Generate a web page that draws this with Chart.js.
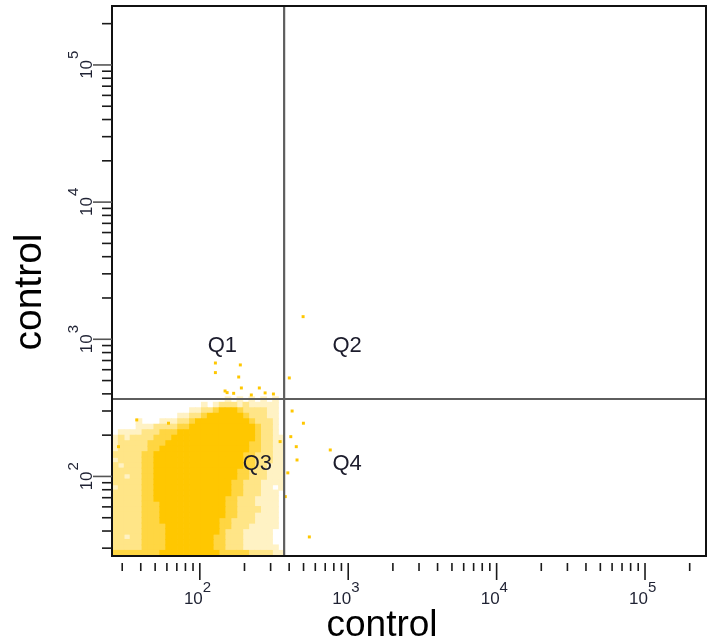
<!DOCTYPE html>
<html>
<head>
<meta charset="utf-8">
<script src="https://cdn.jsdelivr.net/npm/chart.js@4.4.1/dist/chart.umd.min.js"></script>
<style>
  html, body { margin: 0; padding: 0; background: #ffffff; }
  #wrap { width: 711px; height: 641px; }
</style>
</head>
<body>
<div id="wrap"><canvas id="c" width="711" height="641"></canvas></div>
<script>
// ---------------- data ----------------
// axis ranges (log scales)
const xRange = [25.6, 257600];
const yRange = [26.3, 269000];

// quadrant gate positions
const gateX = 370;
const gateY = 367;

// density map of the event cloud: bin centres in log10 units
const binXLog = [1.43, 1.47, 1.51, 1.55, 1.59, 1.63, 1.67, 1.71, 1.75, 1.79,
                 1.83, 1.87, 1.91, 1.95, 1.99, 2.03, 2.07, 2.11, 2.15, 2.19,
                 2.23, 2.27, 2.31, 2.35, 2.39, 2.43, 2.47, 2.51, 2.55];
const binYLog = [2.56, 2.52, 2.48, 2.44, 2.40, 2.36, 2.32, 2.28, 2.24, 2.20,
                 2.16, 2.12, 2.08, 2.04, 2.00, 1.96, 1.92, 1.88, 1.84, 1.80,
                 1.76, 1.72, 1.68, 1.64, 1.60, 1.56, 1.52, 1.48, 1.44];
// density level per bin (0 = empty ... 4 = saturated), one string per row, top row first
const densityRows = [
  "00000000000000000001010101010",
  "00000000000000010122212111110",
  "00000000000001122344432222110",
  "00000000000112234444443222110",
  "00001000111223444444444322210",
  "00001112222334444444444432210",
  "01111222333444444444444432210",
  "12122223334444444444444432211",
  "12222233344444444444444332211",
  "12222233444444444444444332211",
  "22222334444444444444443322211",
  "12222334444444444444443322211",
  "21222334444444444444443322111",
  "22222334444444444444433222111",
  "22122334444444444444433222111",
  "22222334444444444444332221111",
  "12222334444444444444332221101",
  "22222334444444444444332221110",
  "22222334444444444443322211110",
  "22222333444444444443322211110",
  "22222333444444444443322221110",
  "22222333444444444443322211110",
  "22222333444444444433222211110",
  "22222333344444444433222111110",
  "22222333344444444432221111100",
  "22122333344444444332221111100",
  "22222333344444444332221111100",
  "22222333344444444332221111110",
  "33333333444444444433333222211"
];
// isolated events outside the main cloud (log10 units)
const outlierXLog = [2.105, 2.273, 2.105, 2.262, 2.280, 2.184, 2.228, 2.401, 2.603, 2.696,
                     2.622, 2.698, 2.613, 2.650, 2.879, 2.655, 2.593, 2.576, 2.738, 2.170,
                     2.347, 2.440, 2.496, 2.541, 1.575, 1.789, 1.452];
const outlierYLog = [2.827, 2.813, 2.757, 2.725, 2.645, 2.611, 2.606, 2.645, 2.718, 3.165,
                     2.477, 2.388, 2.290, 2.217, 2.193, 2.120, 2.026, 1.853, 1.559, 2.623,
                     2.594, 2.609, 2.601, 2.254, 2.412, 2.388, 2.217];

// tick values
const xMajorTicks = [100, 1000, 10000, 100000];
const xMinorTicks = [30, 40, 50, 60, 70, 80, 90, 200, 300, 400, 500, 600, 700, 800, 900,
                     2000, 3000, 4000, 5000, 6000, 7000, 8000, 9000,
                     20000, 30000, 40000, 50000, 60000, 70000, 80000, 90000, 200000];
const yMajorTicks = [100, 1000, 10000, 100000];
const yMinorTicks = [30, 40, 50, 60, 70, 80, 90, 200, 300, 400, 500, 600, 700, 800, 900,
                     2000, 3000, 4000, 5000, 6000, 7000, 8000, 9000,
                     20000, 30000, 40000, 50000, 60000, 70000, 80000, 90000, 200000];
const tickExponents = ["2", "3", "4", "5"];

// quadrant labels and their anchor positions (log10 units)
const quadLabels = ["Q1", "Q2", "Q3", "Q4"];
const quadXLog = [2.152, 2.993, 2.388, 2.993];
const quadYLog = [2.951, 2.951, 2.091, 2.091];

const axisTitleX = "control";
const axisTitleY = "control";

// ---------------- build datasets ----------------
const levelColors = ["rgba(0,0,0,0)", "rgb(255,242,196)", "rgb(255,229,135)", "rgb(255,214,66)", "rgb(255,199,0)"];
const cloudPoints = [];
densityRows.forEach((row, j) => {
  for (let i = 0; i < row.length && i < binXLog.length; i++) {
    const d = +row[i];
    if (d > 0) cloudPoints.push({ x: Math.pow(10, binXLog[i]), y: Math.pow(10, binYLog[j]), d: d });
  }
});
// draw sparse bins first so dense bins sit on top
cloudPoints.sort((p, q) => p.d - q.d);
const outlierPoints = outlierXLog.map((lx, k) => ({ x: Math.pow(10, lx), y: Math.pow(10, outlierYLog[k]) }));

const FONT = "'Liberation Sans', Arial, sans-serif";

const facsPlugin = {
  id: 'facsDecor',
  afterDatasetsDraw(chart) {
    const { ctx, chartArea: a, scales: { x, y } } = chart;
    ctx.save();
    // frame
    ctx.strokeStyle = '#111';
    ctx.lineWidth = 2;
    ctx.strokeRect(a.left, a.top, a.right - a.left, a.bottom - a.top);

    // x tick marks (detached from axis)
    ctx.strokeStyle = '#1a1a1a';
    ctx.lineWidth = 1.6;
    const xt0 = a.bottom + 7;
    xMinorTicks.forEach(v => {
      const px = x.getPixelForValue(v);
      ctx.beginPath(); ctx.moveTo(px, xt0); ctx.lineTo(px, xt0 + 8); ctx.stroke();
    });
    xMajorTicks.forEach(v => {
      const px = x.getPixelForValue(v);
      ctx.beginPath(); ctx.moveTo(px, xt0); ctx.lineTo(px, xt0 + 17); ctx.stroke();
    });
    // y tick marks
    yMinorTicks.forEach(v => {
      const py = y.getPixelForValue(v);
      ctx.beginPath(); ctx.moveTo(a.left - 10, py); ctx.lineTo(a.left, py); ctx.stroke();
    });
    ctx.strokeStyle = '#555';
    yMajorTicks.forEach(v => {
      const py = y.getPixelForValue(v);
      ctx.beginPath(); ctx.moveTo(a.left - 19, py); ctx.lineTo(a.left, py); ctx.stroke();
    });

    // tick labels 10^n
    ctx.fillStyle = '#1f2233';
    xMajorTicks.forEach((v, k) => {
      const px = x.getPixelForValue(v);
      ctx.font = '17px ' + FONT;
      ctx.textAlign = 'right'; ctx.textBaseline = 'alphabetic';
      ctx.fillText('10', px + 3, 604);
      ctx.font = '15px ' + FONT;
      ctx.textAlign = 'left';
      ctx.fillText(tickExponents[k], px + 3, 592);
    });
    yMajorTicks.forEach((v, k) => {
      const py = y.getPixelForValue(v);
      ctx.save();
      ctx.translate(92, py);
      ctx.rotate(-Math.PI / 2);
      ctx.font = '17px ' + FONT;
      ctx.textAlign = 'right'; ctx.textBaseline = 'alphabetic';
      ctx.fillText('10', 5, 0);
      ctx.font = '15px ' + FONT;
      ctx.textAlign = 'left';
      ctx.fillText(tickExponents[k], 6, -14);
      ctx.restore();
    });

    // quadrant labels
    ctx.font = '22px ' + FONT;
    ctx.fillStyle = '#1c1c2c';
    ctx.textAlign = 'center'; ctx.textBaseline = 'middle';
    quadLabels.forEach((t, k) => {
      ctx.fillText(t, x.getPixelForValue(Math.pow(10, quadXLog[k])), y.getPixelForValue(Math.pow(10, quadYLog[k])));
    });

    // axis titles
    ctx.fillStyle = '#000';
    ctx.textBaseline = 'alphabetic';
    ctx.textAlign = 'center';
    ctx.font = '37px ' + FONT;
    ctx.fillText(axisTitleX, 382, 636);
    ctx.save();
    ctx.translate(41, 292);
    ctx.rotate(-Math.PI / 2);
    ctx.font = '39px ' + FONT;
    ctx.fillText(axisTitleY, 0, 0);
    ctx.restore();

    ctx.restore();
  }
};

new Chart(document.getElementById('c'), {
  type: 'scatter',
  data: {
    datasets: [
      {
        label: 'gate-h',
        type: 'line',
        data: [{ x: xRange[0], y: gateY }, { x: xRange[1], y: gateY }],
        borderColor: '#5e5e5e', borderWidth: 2.2, pointRadius: 0, fill: false, order: 0, clip: 0
      },
      {
        label: 'gate-v',
        type: 'line',
        data: [{ x: gateX, y: yRange[0] }, { x: gateX, y: yRange[1] }],
        borderColor: '#5e5e5e', borderWidth: 2.2, pointRadius: 0, fill: false, order: 0, clip: 0
      },
      {
        label: 'outliers',
        data: outlierPoints,
        pointStyle: 'rect', pointRadius: 2.1, pointBorderWidth: 0,
        pointBackgroundColor: 'rgb(255,199,0)', order: 1, clip: 0
      },
      {
        label: 'cloud',
        data: cloudPoints,
        pointStyle: 'rect', pointRadius: 4.7, pointBorderWidth: 0,
        pointBackgroundColor: ctx => levelColors[ctx.raw ? ctx.raw.d : 0],
        order: 2, clip: 0
      }
    ]
  },
  options: {
    responsive: false,
    animation: false,
    devicePixelRatio: 1,
    layout: { padding: { top: 6, right: 5, left: 0, bottom: 0 } },
    plugins: { legend: { display: false }, tooltip: { enabled: false } },
    scales: {
      x: {
        type: 'logarithmic', min: xRange[0], max: xRange[1], bounds: 'data',
        grid: { display: false }, border: { display: false }, ticks: { display: false },
        afterFit(s) { s.height = 85; }
      },
      y: {
        type: 'logarithmic', min: yRange[0], max: yRange[1], bounds: 'data',
        grid: { display: false }, border: { display: false }, ticks: { display: false },
        afterFit(s) { s.width = 112; }
      }
    }
  },
  plugins: [facsPlugin]
});
</script>
</body>
</html>
